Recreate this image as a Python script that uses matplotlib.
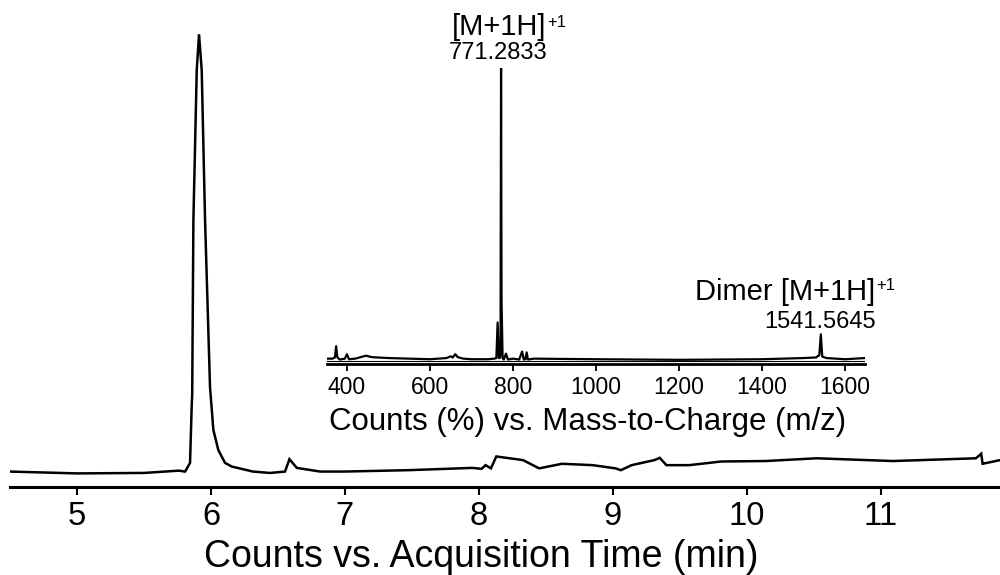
import matplotlib
matplotlib.use("Agg")
import matplotlib.pyplot as plt

plt.rcParams["font.family"] = ["Liberation Sans", "DejaVu Sans"]

# =========================
# DATA
# =========================
# chromatogram: acquisition time (min) vs counts (relative)
rt_min = [4.50, 5.00, 5.50, 5.76, 5.807, 5.844, 5.857, 5.860, 5.869, 5.894,
          5.911, 5.931, 5.956, 5.993, 6.018, 6.055, 6.105, 6.155, 6.314, 6.441,
          6.553, 6.586, 6.641, 6.815, 6.99, 7.47, 7.95, 8.02, 8.05, 8.09,
          8.13, 8.23, 8.33, 8.45, 8.62, 8.85, 9.02, 9.06, 9.14, 9.31,
          9.35, 9.40, 9.57, 9.81, 10.14, 10.52, 11.09, 11.71, 11.75, 11.76,
          11.89]
rt_counts = [3.3, 2.9, 3.0, 3.5, 3.3, 5.2, 18.3, 20.0, 58.2, 91.0,
             98.8, 91.0, 58.2, 21.8, 12.4, 8.0, 5.2, 4.4, 3.3, 3.0,
             3.3, 6.0, 4.1, 3.3, 3.3, 3.6, 4.1, 3.9, 4.7, 4.0,
             6.6, 6.2, 5.8, 4.0, 5.0, 4.7, 4.0, 3.6, 4.7, 5.8,
             6.3, 4.7, 4.7, 5.5, 5.6, 6.2, 5.6, 6.2, 7.2, 5.0,
             5.8]
rt_ticks = [5, 6, 7, 8, 9, 10, 11]

# inset mass spectrum: m/z vs counts (%)
mz = [352, 365, 371, 374, 377, 383, 395, 400, 405, 420,
      446, 460, 500, 600, 640, 650, 655, 661, 667, 680,
      700, 740, 755, 760, 763, 766, 768, 770, 771.28, 772.5,
      775, 778, 783, 788, 800, 815, 822, 826, 830, 833,
      836, 850, 1000, 1200, 1400, 1500, 1530, 1538, 1541.56, 1545,
      1555, 1600, 1648]
mz_counts = [1.8, 1.8, 2.2, 6.0, 2.2, 1.5, 1.8, 3.3, 1.6, 1.8,
             2.8, 2.3, 2.0, 1.6, 2.0, 2.6, 2.2, 3.3, 2.3, 1.8,
             1.6, 1.6, 1.8, 2.0, 14.0, 2.0, 2.0, 3.0, 100.0, 21.0,
             2.0, 1.5, 3.5, 1.5, 1.8, 1.5, 4.2, 1.5, 1.6, 3.9,
             1.5, 1.8, 1.6, 1.4, 1.6, 2.0, 2.2, 3.0, 10.0, 2.5,
             2.0, 1.6, 2.0]
mz_ticks = [400, 600, 800, 1000, 1200, 1400, 1600]

mono_mz = 771.2833
dimer_mz = 1541.5645


# =========================
# FIGURE
# =========================
fig = plt.figure(figsize=(10, 5.75), dpi=100)

ax = fig.add_axes([0.01, 0.1536, 0.99, 0.7964])
ax.plot(rt_min, rt_counts, color="black", lw=1.8, solid_joinstyle="miter")
ax.set_xlim(4.5, 11.89)
ax.set_ylim(0, 100)
for s in ["left", "top", "right"]:
    ax.spines[s].set_visible(False)
ax.spines["bottom"].set_linewidth(2.2)
ax.set_yticks([])
ax.set_xticks(rt_ticks)
ax.tick_params(axis="x", length=6, width=1.5, labelsize=23.5, pad=4)
ax.set_xlabel("Counts vs. Acquisition Time (min)", fontsize=27, labelpad=0)
ax.xaxis.set_label_coords(0.476, -0.115)

# inset spectrum
axi = fig.add_axes([0.327, 0.367, 0.538, 0.515])
axi.plot(mz, mz_counts, color="black", lw=1.6)
axi.set_xlim(352, 1648)
axi.set_ylim(0, 100)
for s in ["left", "top", "right"]:
    axi.spines[s].set_visible(False)
axi.spines["bottom"].set_linewidth(2.0)
axi.axhline(0.9, color="black", lw=0.8)
axi.set_yticks([])
axi.set_xticks(mz_ticks)
axi.tick_params(axis="x", length=5, width=1.3, labelsize=16.5, pad=4)
axi.set_xlabel("Counts (%) vs. Mass-to-Charge (m/z)", fontsize=22.5, labelpad=0)
axi.xaxis.set_label_coords(0.484, -0.145)

# peak labels
axi.annotate("771.2833", xy=(mono_mz, 100), xytext=(-3, 15),
             textcoords="offset pixels", ha="center", va="center", fontsize=17)
axi.annotate("[M+1H]", xy=(mono_mz, 100), xytext=(-2, 41),
             textcoords="offset pixels", ha="center", va="center", fontsize=21)
axi.annotate("+1", xy=(mono_mz, 100), xytext=(46, 45),
             textcoords="offset pixels", ha="left", va="center", fontsize=12)

axi.annotate("1541.5645", xy=(dimer_mz, 10), xytext=(-1, 12),
             textcoords="offset pixels", ha="center", va="center", fontsize=17)
axi.annotate("Dimer [M+1H]", xy=(dimer_mz, 10), xytext=(54, 42),
             textcoords="offset pixels", ha="right", va="center", fontsize=21)
axi.annotate("+1", xy=(dimer_mz, 10), xytext=(55, 49),
             textcoords="offset pixels", ha="left", va="center", fontsize=12)

fig.savefig("out.png", dpi=100)
